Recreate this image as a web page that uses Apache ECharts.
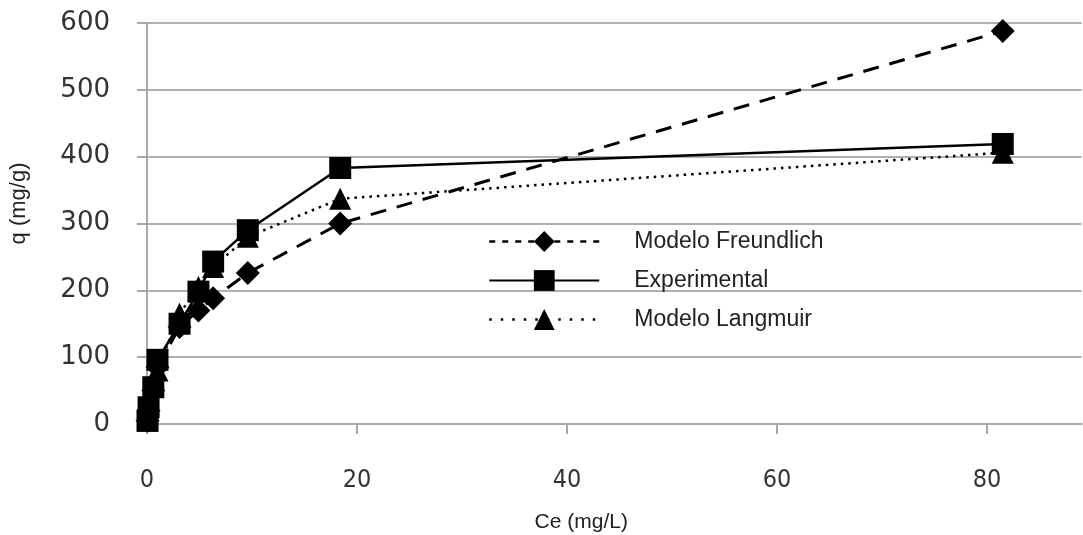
<!DOCTYPE html>
<html><head><meta charset="utf-8">
<script src="https://cdn.jsdelivr.net/npm/echarts@6/dist/echarts.min.js"></script>
<style>html,body{margin:0;padding:0;background:#fff}#c{width:1083px;height:535px}</style>
</head><body><div id="c"></div>
<script>
const ce = [0.05, 0.15, 0.6, 1.0, 3.1, 4.9, 6.3, 9.6, 18.4, 81.5];
const qFreundlich = [5, 20, 50, 85, 145, 170, 188, 226, 300, 588];
const qExperimental = [5, 25, 55, 96, 150, 198, 243, 290, 383, 419];
const qLangmuir = [5, 30, 60, 80, 165, 205, 235, 280, 337, 406];
const xTicks = [0, 20, 40, 60, 80];
const yTicks = [0, 100, 200, 300, 400, 500, 600];
const names = ['Modelo Freundlich', 'Experimental', 'Modelo Langmuir'];

const pair = (xs, ys) => xs.map((x, i) => [x, ys[i]]);
const chart = echarts.init(document.getElementById('c'));
chart.setOption({
  animation: false,
  grid: {left: 147, right: 1.5, top: 23, bottom: 111, containLabel: false, outerBoundsMode: 'none'},
  xAxis: {
    type: 'value', min: 0, max: 89, interval: 20,
    name: 'Ce (mg/L)', nameLocation: 'middle', nameGap: 88,
    nameTextStyle: {fontFamily: 'Liberation Sans', fontSize: 21, color: '#222', padding: [0, 66, 0, 0]},
    axisLine: {show: true, lineStyle: {color: '#a8a8a8', width: 2}},
    axisTick: {show: true, length: 10, customValues: xTicks, lineStyle: {color: '#a8a8a8', width: 2}},
    axisLabel: {margin: 44, fontFamily: 'DejaVu Sans Condensed', fontSize: 25, color: '#333',
      customValues: xTicks, formatter: v => String(v)},
    splitLine: {show: false}
  },
  yAxis: {
    type: 'value', min: 0, max: 600, interval: 100,
    name: 'q (mg/g)', nameLocation: 'middle', nameGap: 117, nameRotate: 90,
    nameTextStyle: {fontFamily: 'Liberation Sans', fontSize: 22, color: '#222', padding: [0, 0, 0, 40]},
    axisLine: {show: true, lineStyle: {color: '#a8a8a8', width: 2}},
    axisTick: {show: true, inside: false, length: 10, lineStyle: {color: '#a8a8a8', width: 2}},
    axisLabel: {margin: 37, fontFamily: 'DejaVu Sans', fontSize: 26, color: '#333',
      formatter: v => yTicks.includes(v) ? String(v) : ''},
    splitLine: {show: true, lineStyle: {color: '#b0b0b0', width: 2}}
  },
  legend: {
    orient: 'vertical', left: 488, top: 230, padding: 0, itemWidth: 110, itemHeight: 26, itemGap: 16,
    data: [
      {name: names[0], lineStyle: {type: [6, 7], width: 2.5}},
      {name: names[1]},
      {name: names[2], lineStyle: {type: [2.5, 9], width: 2.5}}
    ],
    textStyle: {fontFamily: 'Liberation Sans', fontSize: 23, color: '#222', padding: [0, 0, 0, 30]}
  },
  series: [
    {name: names[0], type: 'line', data: pair(ce, qFreundlich), symbol: 'diamond', symbolSize: 24,
     z: 2, itemStyle: {color: '#000'}, lineStyle: {color: '#000', width: 3, type: [16, 11]}},
    {name: names[2], type: 'line', data: pair(ce, qLangmuir), symbol: 'triangle', symbolSize: 22,
     z: 3, itemStyle: {color: '#000'}, lineStyle: {color: '#000', width: 2.5, type: [2.5, 5]}},
    {name: names[1], type: 'line', data: pair(ce, qExperimental), symbol: 'rect', symbolSize: 22,
     z: 4, itemStyle: {color: '#000'}, lineStyle: {color: '#000', width: 2.5, type: 'solid'}}
  ]
});
</script></body></html>
